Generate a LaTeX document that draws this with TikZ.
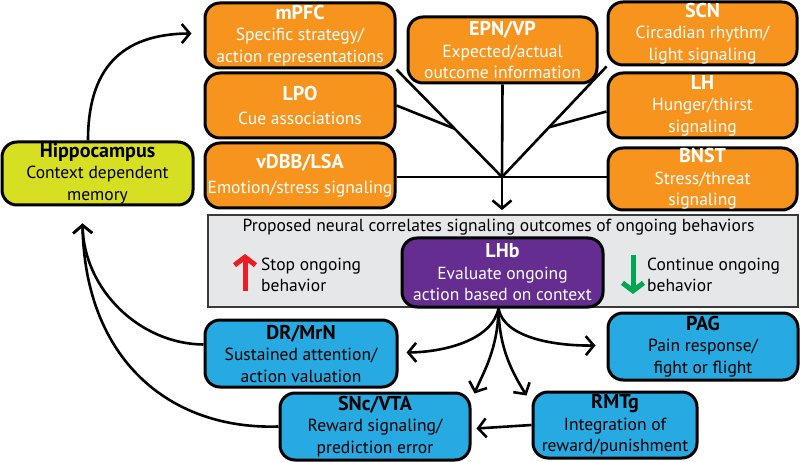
\documentclass[tikz,border=0pt]{standalone}
\usepackage{fontspec}
\setmainfont{PT Sans}
\usetikzlibrary{arrows.meta,calc,backgrounds}
\definecolor{orng}{HTML}{F7941E}
\definecolor{ygreen}{HTML}{D7DF23}
\definecolor{cblue}{HTML}{27AAE1}
\definecolor{purp}{HTML}{662D91}
\definecolor{gfill}{HTML}{E6E7E8}
\definecolor{gborder}{HTML}{3A3A3A}
\definecolor{rd}{HTML}{ED1C24}
\definecolor{gr}{HTML}{00A651}
\newcommand\boxtitle[1]{{\fontsize{20}{21.5}\selectfont\bfseries #1}}
\begin{document}
\begin{tikzpicture}[x=1pt,y=-1pt,
  box/.style={draw=black, line width=3pt, rounded corners=15pt, align=center, inner sep=0pt,
    font=\fontsize{17.5}{21.5}\selectfont},
  obox/.style={box, fill=orng, text=white},
  bbox/.style={box, fill=cblue, text=black},
  conn/.style={line width=2.6pt, draw=black},
  arr/.style={conn, -{Straight Barb[length=8pt,width=19pt]}},
  bigarr/.style={line width=5pt, -{Straight Barb[length=8pt,width=21pt]}},
  lbl/.style={font=\fontsize{17.5}{21}\selectfont, align=left, inner sep=0pt, anchor=west}
]
\useasboundingbox (0,0) rectangle (800,462);

% gray box
\node[draw=gborder, fill=gfill, line width=1.8pt, minimum width=590pt, minimum height=92pt, inner sep=0pt] (gray) at (503,261) {};
\node[font=\fontsize{17.5}{21}\selectfont, inner sep=0pt] (gtitle) at (498.5,227) {Proposed neural correlates signaling outcomes of ongoing behaviors};

% orange boxes
\node[obox, minimum width=190pt, minimum height=65pt] (mpfc) at (300,35.5) {\boxtitle{mPFC}\\Specific strategy/\\action representations};
\node[obox, minimum width=190pt, minimum height=65pt] (lpo) at (300,105.5) {\boxtitle{LPO}\\[3pt]Cue associations};
\node[obox, minimum width=190pt, minimum height=65pt] (vdbb) at (300,175.5) {\boxtitle{vDBB/LSA}\\[3pt]Emotion/stress signaling};
\node[obox, minimum width=189pt, minimum height=66pt] (epn) at (502.5,50) {\boxtitle{EPN/VP}\\Expected/actual\\outcome information};
\node[obox, minimum width=189pt, minimum height=63pt] (scn) at (702.5,33.5) {\boxtitle{SCN}\\Circadian rhythm/\\light signaling};
\node[obox, minimum width=189pt, minimum height=65pt] (lh) at (702.5,105.5) {\boxtitle{LH}\\Hunger/thirst\\signaling};
\node[obox, minimum width=189pt, minimum height=62pt] (bnst) at (702.5,179) {\boxtitle{BNST}\\Stress/threat\\signaling};

% hippocampus
\node[box, fill=ygreen, text=black, minimum width=191pt, minimum height=63pt] (hip) at (97.5,173.5) {\boxtitle{Hippocampus}\\Context dependent\\memory};

% LHb
\node[box, fill=purp, text=white, minimum width=201pt, minimum height=69pt] (lhb) at (502.5,272.5) {\boxtitle{LHb}\\Evaluate ongoing\\action based on context};

% blue boxes
\node[bbox, minimum width=192pt, minimum height=67pt] (dr) at (301,353.5) {\boxtitle{DR/MrN}\\Sustained attention/\\action valuation};
\node[bbox, minimum width=190pt, minimum height=67pt] (pag) at (703,346.5) {\boxtitle{PAG}\\Pain response/\\fight or flight};
\node[bbox, minimum width=190pt, minimum height=67pt] (snc) at (375,426.5) {\boxtitle{SNc/VTA}\\Reward signaling/\\prediction error};
\node[bbox, minimum width=164pt, minimum height=66pt] (rmtg) at (615,425) {\boxtitle{RMTg}\\Integration of\\reward/punishment};

% stop / continue
\node[lbl] (stop) at (261,274.5) {Stop ongoing\\behavior};
\node[lbl] (cont) at (647,274.5) {Continue ongoing\\behavior};
\coordinate (rb) at (245,291);
\coordinate (rt) at (245,254);
\coordinate (gt) at (633,255);
\coordinate (gb) at (633,294);
\draw[rd, bigarr] (rb) -- (rt);
\draw[gr, bigarr] (gt) -- (gb);

% convergence lines
\coordinate (j) at (502,177);
\coordinate (jl) at ($(mpfc.south east)!0.55!(j)$);
\coordinate (jr) at ($(scn.south west)!0.55!(j)$);
\begin{scope}[on background layer]
\fill[white] (0,0) rectangle (800,462);
\draw[conn] (mpfc.south east) -- (j);
\draw[conn] (scn.south west) -- (j);
\draw[conn] (lpo.east) -- (jl);
\draw[conn] ($(lh.west)+(0,6)$) -- (jr);
\draw[conn] (epn.south) -- (j);
\draw[conn] (vdbb.east |- j) -- (bnst.west |- j);
\end{scope}
\draw[arr] (j) -- ($(gray.north)+(-1,-4)$);

% hippocampus to mPFC
\draw[arr] ($(hip.north)+(-9.5,0)$) .. controls (88,70) and (120,34) .. ($(mpfc.west)+(-12,-2)$);

% back to hippocampus
\coordinate (hb) at ($(hip.south)+(-15,17)$);
\draw[arr] ($(dr.west)+(0,-9)$) .. controls (140,344) and (84,290) .. (hb);
\draw[arr] (snc.west) .. controls (170,430) and (85,360) .. (hb);

% from LHb
\coordinate (lo) at ($(lhb.south)+(-4,0)$);
\draw[arr] (lo) .. controls (492,340) and (445,352) .. ($(dr.east)+(8,-1)$);
\draw[arr] (lo) .. controls (504,338) and (555,346) .. ($(pag.west)+(-11,-1)$);
\draw[arr] (lo) .. controls (498,350) and (482,375) .. ($(snc.north east)+(3,2)$);
\draw[arr] (lo) .. controls (499,350) and (514,375) .. ($(rmtg.north west)+(-5,5)$);
\draw[arr] (rmtg.west) -- ($(snc.east)+(5,2)$);
\end{tikzpicture}
\end{document}
